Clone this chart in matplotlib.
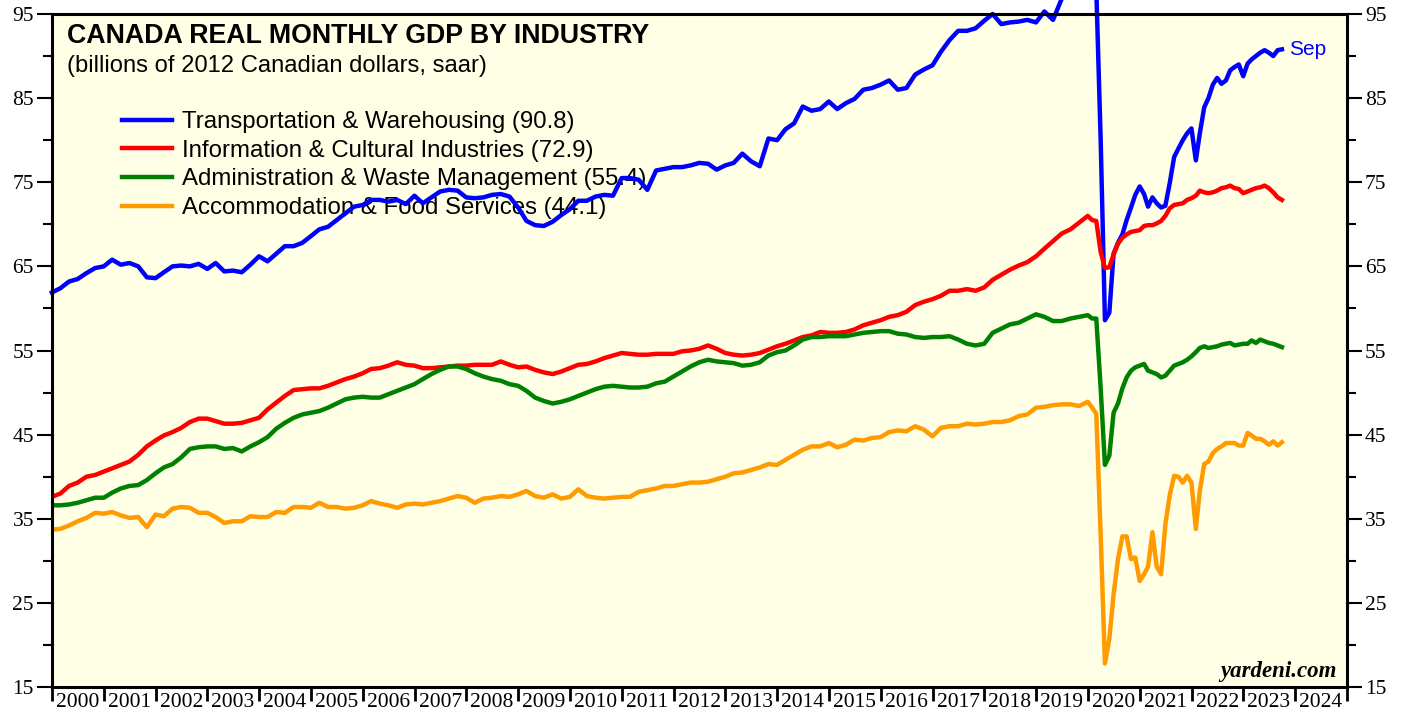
#!/usr/bin/env python3
"""
Canada real monthly GDP by industry (billions of 2012 C$, saar).

Values read off the yardeni.com chart: every second month up to Dec 2019,
then every month from Jan 2020 to Sep 2023.

Outputs:
- out.png
"""
import matplotlib
matplotlib.use('Agg')  # Non-interactive backend
import matplotlib.pyplot as plt
import matplotlib.dates as mdates
import pandas as pd

plt.rcParams['font.family'] = ['Liberation Serif', 'DejaVu Serif']

# month-end dates: bimonthly Dec 1999 .. Dec 2019, monthly Jan 2020 .. Sep 2023
dates_early = pd.date_range('1999-12-01', '2019-12-01', freq='2MS') + pd.offsets.MonthEnd(0)
dates_late = pd.date_range('2020-01-01', '2023-09-01', freq='MS') + pd.offsets.MonthEnd(0)
dates = dates_early.append(dates_late)

series_names = [
    'Transportation & Warehousing',
    'Information & Cultural Industries',
    'Administration & Waste Management',
    'Accommodation & Food Services',
]

transport = [
    61.9,
    62.4, 63.2, 63.5, 64.2, 64.8, 65.0,   # 2000
    65.8, 65.2, 65.4, 65.0, 63.7, 63.6,   # 2001
    64.3, 65.0, 65.1, 65.0, 65.3, 64.7,   # 2002
    65.4, 64.4, 64.5, 64.3, 65.2, 66.2,   # 2003
    65.6, 66.5, 67.4, 67.4, 67.8, 68.6,   # 2004
    69.4, 69.7, 70.5, 71.3, 72.1, 72.3,   # 2005
    72.9, 72.9, 72.7, 72.9, 72.4, 73.4,   # 2006
    72.5, 73.2, 73.9, 74.1, 74.0, 73.2,   # 2007
    73.1, 73.2, 73.5, 73.6, 73.3, 72.0,   # 2008
    70.4, 69.9, 69.8, 70.3, 71.1, 71.8,   # 2009
    72.8, 72.8, 73.3, 73.5, 73.4, 75.5,   # 2010
    75.5, 75.3, 74.1, 76.4, 76.6, 76.8,   # 2011
    76.8, 77.0, 77.3, 77.2, 76.5, 77.0,   # 2012
    77.3, 78.4, 77.5, 76.9, 80.2, 80.0,   # 2013
    81.3, 82.0, 84.0, 83.5, 83.7, 84.6,   # 2014
    83.7, 84.4, 84.9, 86.0, 86.2, 86.6,   # 2015
    87.1, 86.0, 86.2, 87.8, 88.4, 88.9,   # 2016
    90.5, 91.9, 93.0, 93.0, 93.3, 94.2,   # 2017
    95.0, 93.8, 94.0, 94.1, 94.3, 94.0,   # 2018
    95.3, 94.3, 96.8, 97.6, 98.0, 98.2,   # 2019
    98.3, 98.0, 80.0, 58.6, 59.5, 66.5, 67.8, 68.8, 70.5, 72.0, 73.5, 74.5,   # 2020
    73.6, 72.1, 73.2, 72.5, 72.0, 72.2, 74.9, 78.0, 79.0, 80.0, 80.8, 81.4,   # 2021
    77.6, 80.8, 83.9, 85.0, 86.6, 87.4, 86.7, 87.1, 88.3, 88.7, 89.0, 87.6,   # 2022
    89.1, 89.6, 90.0, 90.4, 90.7, 90.4, 90.0, 90.7, 90.8,                     # 2023
]

information = [
    37.6,
    38.0, 38.9, 39.3, 40.0, 40.2, 40.6,   # 2000
    41.0, 41.4, 41.8, 42.6, 43.6, 44.3,   # 2001
    44.9, 45.3, 45.8, 46.5, 46.9, 46.9,   # 2002
    46.6, 46.3, 46.3, 46.4, 46.7, 47.0,   # 2003
    48.0, 48.8, 49.6, 50.3, 50.4, 50.5,   # 2004
    50.5, 50.8, 51.2, 51.6, 51.9, 52.3,   # 2005
    52.8, 52.9, 53.2, 53.6, 53.3, 53.2,   # 2006
    52.9, 52.9, 53.0, 53.1, 53.2, 53.2,   # 2007
    53.3, 53.3, 53.3, 53.7, 53.3, 53.0,   # 2008
    53.1, 52.7, 52.4, 52.2, 52.5, 52.9,   # 2009
    53.3, 53.4, 53.7, 54.1, 54.4, 54.7,   # 2010
    54.6, 54.5, 54.5, 54.6, 54.6, 54.6,   # 2011
    54.9, 55.0, 55.2, 55.6, 55.2, 54.7,   # 2012
    54.5, 54.4, 54.5, 54.7, 55.1, 55.5,   # 2013
    55.8, 56.2, 56.6, 56.8, 57.2, 57.1,   # 2014
    57.1, 57.2, 57.5, 58.0, 58.3, 58.6,   # 2015
    59.0, 59.2, 59.6, 60.4, 60.8, 61.1,   # 2016
    61.5, 62.1, 62.1, 62.3, 62.1, 62.5,   # 2017
    63.4, 64.0, 64.6, 65.1, 65.5, 66.2,   # 2018
    67.1, 68.0, 68.9, 69.4, 70.2, 71.0,   # 2019
    70.5, 70.4, 66.7, 64.8, 64.9, 66.4, 67.7, 68.4, 68.8, 69.1, 69.2, 69.3,   # 2020
    69.8, 69.9, 69.9, 70.1, 70.4, 71.0, 71.9, 72.3, 72.4, 72.5, 72.9, 73.1,   # 2021
    73.4, 74.0, 73.8, 73.7, 73.8, 74.0, 74.3, 74.4, 74.6, 74.3, 74.2, 73.7,   # 2022
    73.9, 74.1, 74.3, 74.4, 74.6, 74.3, 73.8, 73.2, 72.9,                     # 2023
]

admin = [
    36.6,
    36.6, 36.7, 36.9, 37.2, 37.5, 37.5,   # 2000
    38.1, 38.6, 38.9, 39.0, 39.6, 40.4,   # 2001
    41.1, 41.5, 42.3, 43.3, 43.5, 43.6,   # 2002
    43.6, 43.3, 43.4, 43.0, 43.6, 44.1,   # 2003
    44.7, 45.7, 46.4, 47.0, 47.4, 47.6,   # 2004
    47.8, 48.2, 48.7, 49.2, 49.4, 49.5,   # 2005
    49.4, 49.4, 49.8, 50.2, 50.6, 51.0,   # 2006
    51.6, 52.2, 52.7, 53.1, 53.1, 52.8,   # 2007
    52.3, 51.9, 51.6, 51.4, 51.0, 50.8,   # 2008
    50.2, 49.4, 49.0, 48.7, 48.9, 49.2,   # 2009
    49.6, 50.0, 50.4, 50.7, 50.8, 50.7,   # 2010
    50.6, 50.6, 50.7, 51.1, 51.3, 51.9,   # 2011
    52.5, 53.1, 53.6, 53.9, 53.7, 53.6,   # 2012
    53.5, 53.2, 53.3, 53.6, 54.4, 54.8,   # 2013
    55.0, 55.6, 56.3, 56.6, 56.6, 56.7,   # 2014
    56.7, 56.7, 56.9, 57.1, 57.2, 57.3,   # 2015
    57.3, 57.0, 56.9, 56.6, 56.5, 56.6,   # 2016
    56.6, 56.7, 56.3, 55.8, 55.6, 55.8,   # 2017
    57.1, 57.6, 58.1, 58.3, 58.8, 59.3,   # 2018
    59.0, 58.5, 58.5, 58.8, 59.0, 59.2,   # 2019
    58.8, 58.8, 50.5, 41.4, 42.5, 47.6, 48.7, 50.5, 51.8, 52.6, 53.0, 53.2,   # 2020
    53.4, 52.6, 52.4, 52.2, 51.8, 52.0, 52.6, 53.2, 53.4, 53.6, 53.9, 54.3,   # 2021
    54.8, 55.3, 55.5, 55.3, 55.4, 55.5, 55.7, 55.8, 55.9, 55.6, 55.7, 55.8,   # 2022
    55.8, 56.2, 55.9, 56.3, 56.1, 55.9, 55.8, 55.6, 55.4,                     # 2023
]

accommodation = [
    33.7,
    33.8, 34.2, 34.7, 35.1, 35.7, 35.6,   # 2000
    35.8, 35.4, 35.1, 35.2, 34.0, 35.5,   # 2001
    35.3, 36.2, 36.4, 36.3, 35.7, 35.7,   # 2002
    35.2, 34.5, 34.7, 34.7, 35.3, 35.2,   # 2003
    35.2, 35.8, 35.7, 36.4, 36.4, 36.3,   # 2004
    36.9, 36.4, 36.4, 36.2, 36.3, 36.6,   # 2005
    37.1, 36.8, 36.6, 36.3, 36.7, 36.8,   # 2006
    36.7, 36.9, 37.1, 37.4, 37.7, 37.5,   # 2007
    36.9, 37.4, 37.5, 37.7, 37.6, 37.9,   # 2008
    38.3, 37.7, 37.5, 37.9, 37.4, 37.6,   # 2009
    38.5, 37.7, 37.5, 37.4, 37.5, 37.6,   # 2010
    37.6, 38.2, 38.4, 38.6, 38.9, 38.9,   # 2011
    39.1, 39.3, 39.3, 39.4, 39.7, 40.0,   # 2012
    40.4, 40.5, 40.8, 41.1, 41.5, 41.4,   # 2013
    42.0, 42.6, 43.2, 43.6, 43.6, 44.0,   # 2014
    43.5, 43.8, 44.4, 44.3, 44.6, 44.7,   # 2015
    45.3, 45.5, 45.4, 46.0, 45.6, 44.8,   # 2016
    45.8, 46.0, 46.0, 46.3, 46.2, 46.3,   # 2017
    46.5, 46.5, 46.7, 47.2, 47.4, 48.2,   # 2018
    48.3, 48.5, 48.6, 48.6, 48.4, 48.9,   # 2019
    48.2, 47.5, 33.0, 17.8, 20.7, 26.0, 30.2, 32.9, 32.9, 30.2, 30.4, 27.6,   # 2020
    28.4, 29.3, 33.4, 29.3, 28.4, 34.3, 37.8, 40.1, 40.0, 39.3, 40.1, 39.3,   # 2021
    33.8, 38.3, 41.5, 41.8, 42.8, 43.3, 43.6, 44.0, 44.0, 44.0, 43.7, 43.7,   # 2022
    45.2, 44.9, 44.5, 44.5, 44.2, 43.8, 44.2, 43.7, 44.1,                     # 2023
]

series_colors = ['#0000FF', '#FF0000', '#008000', '#FF9A00']

y_major = list(range(15, 96, 10))
y_minor = list(range(20, 91, 10))


def plot_gdp(output_file='out.png'):
    fig = plt.figure(figsize=(14.07, 7.17), dpi=100)
    ax = fig.add_axes([52 / 1407, 30 / 717, 1295 / 1407, 673 / 717])
    ax.set_facecolor('#FFFFE6')

    all_values = [transport, information, admin, accommodation]
    for name, vals, color in zip(series_names, all_values, series_colors):
        # the transport line runs above the frame in 2019, as in the original
        ax.plot(dates, vals, color=color, linewidth=3.2, solid_joinstyle='round',
                label=f'{name} ({vals[-1]:.1f})', clip_on=(vals is not transport))

    ax.annotate('Sep', xy=(dates[-1], transport[-1]), xytext=(5, 0),
                textcoords='offset points', va='center', ha='left',
                color=series_colors[0], fontsize=15, family='Liberation Sans')

    ax.set_xlim(pd.Timestamp('2000-01-01'), pd.Timestamp('2025-01-01'))
    ax.set_ylim(15, 95)

    # year boundaries get the ticks, year names sit between them
    ax.xaxis.set_major_locator(mdates.YearLocator())
    ax.xaxis.set_major_formatter(plt.NullFormatter())
    ax.xaxis.set_minor_locator(mdates.MonthLocator(bymonth=7))
    ax.xaxis.set_minor_formatter(mdates.DateFormatter('%Y'))
    ax.tick_params(axis='x', which='major', direction='out', length=10, width=2)
    ax.tick_params(axis='x', which='minor', length=0, pad=4, labelsize=15.5)

    ax.set_yticks(y_major)
    ax.set_yticks(y_minor, minor=True)
    ax.tick_params(axis='y', which='both', left=True, right=True,
                   labelleft=True, labelright=True, direction='out', width=1.5)
    ax.tick_params(axis='y', which='major', length=11, pad=2, labelsize=15.5)
    ax.tick_params(axis='y', which='minor', length=6.5)

    for spine in ax.spines.values():
        spine.set_linewidth(2.2)

    ax.text(0.0116, 0.957, 'CANADA REAL MONTHLY GDP BY INDUSTRY', transform=ax.transAxes,
            fontsize=19.3, fontweight='bold', family='Liberation Sans', va='baseline')
    ax.text(0.0116, 0.9135, '(billions of 2012 Canadian dollars, saar)', transform=ax.transAxes,
            fontsize=17.1, family='Liberation Sans', va='baseline')

    leg = ax.legend(loc='upper left', bbox_to_anchor=(0.054, 0.856), frameon=False,
                    prop={'family': 'Liberation Sans', 'size': 17.3},
                    handlelength=2.1, handletextpad=0.42, labelspacing=0.28,
                    borderpad=0, borderaxespad=0)
    leg.set_zorder(1)

    ax.text(0.9923, 0.0149, 'yardeni.com', transform=ax.transAxes, ha='right',
            va='baseline', fontsize=16.5, fontweight='bold', style='italic')

    fig.savefig(output_file, dpi=100)
    plt.close(fig)


if __name__ == '__main__':
    plot_gdp()
